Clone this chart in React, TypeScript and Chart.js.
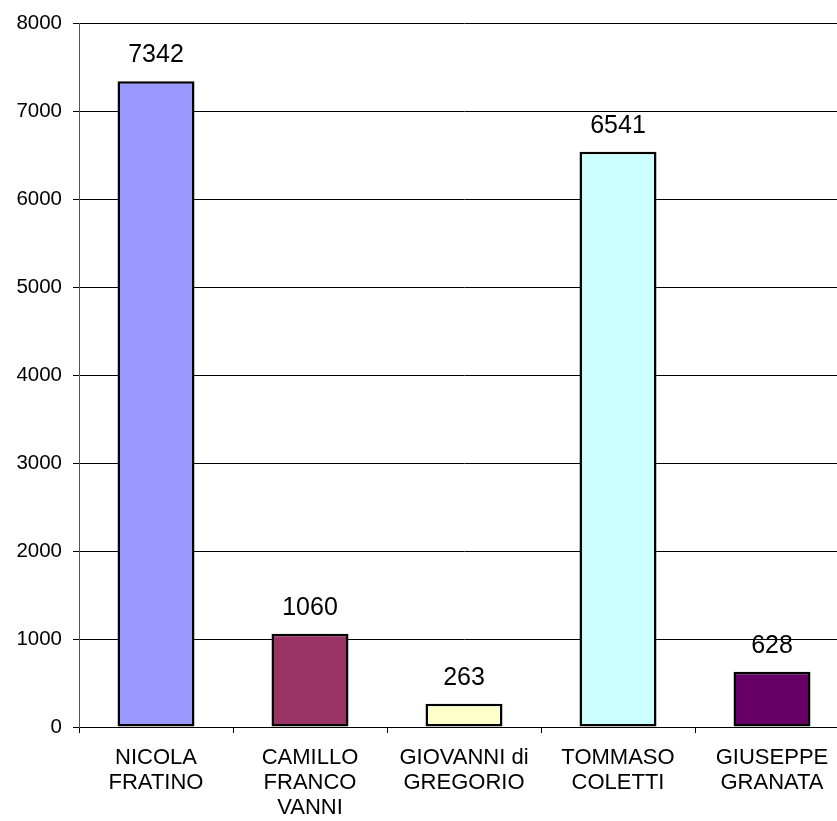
import React, { useEffect, useRef } from "react";
import { Chart, registerables } from "chart.js";

Chart.register(...registerables);

const categories: string[][] = [
  ["NICOLA", "FRATINO"],
  ["CAMILLO", "FRANCO", "VANNI"],
  ["GIOVANNI di", "GREGORIO"],
  ["TOMMASO", "COLETTI"],
  ["GIUSEPPE", "GRANATA"],
];
const values: number[] = [7342, 1060, 263, 6541, 628];
const barColors: string[] = ["#9999FF", "#993366", "#FFFFCC", "#CCFFFF", "#660066"];
const yTicks: number[] = [0, 1000, 2000, 3000, 4000, 5000, 6000, 7000, 8000];

const FONT = "'Liberation Sans', Arial, sans-serif";

const valueLabels = {
  id: "valueLabels",
  afterDatasetsDraw(chart: any) {
    const ctx = chart.ctx;
    const meta = chart.getDatasetMeta(0);
    ctx.save();
    ctx.font = `25px ${FONT}`;
    ctx.fillStyle = "#000";
    ctx.textAlign = "center";
    ctx.textBaseline = "alphabetic";
    meta.data.forEach((bar: any, i: number) => {
      ctx.fillText(String(values[i]), bar.x, bar.y - 19);
    });
    ctx.restore();
  },
};

export default function App() {
  const ref = useRef<HTMLCanvasElement>(null);
  useEffect(() => {
    if (!ref.current) return;
    const chart = new Chart(ref.current, {
      type: "bar",
      data: {
        labels: categories,
        datasets: [
          {
            data: values,
            backgroundColor: barColors,
            borderColor: "#000",
            borderWidth: 2.5,
            borderSkipped: false,
            barPercentage: 0.5,
            categoryPercentage: 1,
          },
        ],
      },
      options: {
        responsive: false,
        animation: false,
        devicePixelRatio: 1,
        layout: { padding: { top: 21, right: 11, left: 0, bottom: 0 } },
        plugins: { legend: { display: false }, tooltip: { enabled: false } },
        scales: {
          x: {
            grid: {
              offset: true,
              drawOnChartArea: false,
              drawTicks: true,
              tickLength: 6,
              color: "#000",
            },
            border: { color: "#000", width: 1 },
            ticks: {
              color: "#000",
              padding: 12,
              maxRotation: 0,
              autoSkip: false,
              font: { family: FONT, size: 22, lineHeight: 25 / 22 },
            },
            afterFit(scale: any) {
              scale.height = 94;
            },
          },
          y: {
            min: 0,
            max: 8000,
            afterBuildTicks(scale: any) {
              scale.ticks = yTicks.map((v) => ({ value: v }));
            },
            grid: {
              color: "#000",
              lineWidth: 1,
              tickLength: 6,
            },
            border: { color: "#555", width: 1 },
            ticks: {
              color: "#000",
              padding: 11,
              font: { family: FONT, size: 20.5 },
              callback: (v: any) => String(v),
            },
            afterFit(scale: any) {
              scale.width = 79;
            },
          },
        },
      },
      plugins: [valueLabels],
    });
    return () => chart.destroy();
  }, []);
  return (
    <div
      style={{
        position: "fixed",
        left: 0,
        top: 0,
        width: 837,
        height: 821,
        overflow: "hidden",
        background: "#fff",
      }}
    >
      <canvas ref={ref} width={860} height={821} style={{ display: "block" }} />
    </div>
  );
}
